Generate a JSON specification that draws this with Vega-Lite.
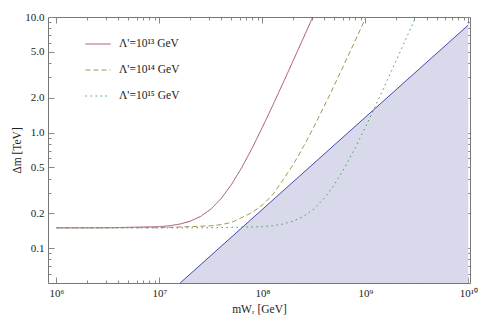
{
  "$schema": "https://vega.github.io/schema/vega-lite/v6.json",
  "width": 422,
  "height": 266,
  "autosize": "none",
  "padding": {"left": 48, "top": 17, "right": 15, "bottom": 45},
  "config": {
    "font": "Liberation Serif",
    "view": {"stroke": "#777777", "strokeWidth": 1},
    "axis": {"labelFont": "Liberation Serif", "titleFont": "Liberation Serif", "labelColor": "#222", "titleColor": "#222", "grid": false, "domain": false, "tickColor": "#888888", "labelFontSize": 11, "titleFontSize": 11.5, "titleFontWeight": "normal", "labelOverlap": false, "labelBound": false, "labelFlush": false}
  },
  "datasets": {
    "bound": [
      {"m": 15890000, "dm": 0.05},
      {"m": 10000000000, "dm": 8.52}
    ],
    "curves": [
      {"lam": "13", "m": 1000000, "dm": 0.15},
      {"lam": "13", "m": 3162000, "dm": 0.1502},
      {"lam": "13", "m": 10000000, "dm": 0.1536},
      {"lam": "13", "m": 12590000, "dm": 0.1565},
      {"lam": "13", "m": 15850000, "dm": 0.1618},
      {"lam": "13", "m": 19950000, "dm": 0.1714},
      {"lam": "13", "m": 25120000, "dm": 0.1884},
      {"lam": "13", "m": 31620000, "dm": 0.2181},
      {"lam": "13", "m": 39810000, "dm": 0.2693},
      {"lam": "13", "m": 50120000, "dm": 0.3559},
      {"lam": "13", "m": 63100000, "dm": 0.4992},
      {"lam": "13", "m": 79430000, "dm": 0.733},
      {"lam": "13", "m": 100000000, "dm": 1.111},
      {"lam": "13", "m": 125900000, "dm": 1.715},
      {"lam": "13", "m": 158500000, "dm": 2.678},
      {"lam": "13", "m": 199500000, "dm": 4.209},
      {"lam": "13", "m": 251200000, "dm": 6.638},
      {"lam": "13", "m": 316200000, "dm": 10.49},
      {"lam": "13", "m": 354800000, "dm": 13.2},
      {"lam": "14", "m": 1000000, "dm": 0.15},
      {"lam": "14", "m": 10000000, "dm": 0.1505},
      {"lam": "14", "m": 31620000, "dm": 0.156},
      {"lam": "14", "m": 39810000, "dm": 0.16},
      {"lam": "14", "m": 50120000, "dm": 0.167},
      {"lam": "14", "m": 63100000, "dm": 0.184},
      {"lam": "14", "m": 79430000, "dm": 0.204},
      {"lam": "14", "m": 100000000, "dm": 0.236},
      {"lam": "14", "m": 125900000, "dm": 0.29},
      {"lam": "14", "m": 158500000, "dm": 0.39},
      {"lam": "14", "m": 199500000, "dm": 0.53},
      {"lam": "14", "m": 251200000, "dm": 0.76},
      {"lam": "14", "m": 316200000, "dm": 1.12},
      {"lam": "14", "m": 398100000, "dm": 1.69},
      {"lam": "14", "m": 501200000, "dm": 2.58},
      {"lam": "14", "m": 631000000, "dm": 4.0},
      {"lam": "14", "m": 794300000, "dm": 6.2},
      {"lam": "14", "m": 1000000000, "dm": 9.7},
      {"lam": "14", "m": 1122000000, "dm": 12.2},
      {"lam": "15", "m": 1000000, "dm": 0.15},
      {"lam": "15", "m": 10000000, "dm": 0.15},
      {"lam": "15", "m": 31620000, "dm": 0.1502},
      {"lam": "15", "m": 100000000, "dm": 0.1536},
      {"lam": "15", "m": 125900000, "dm": 0.1565},
      {"lam": "15", "m": 158500000, "dm": 0.1618},
      {"lam": "15", "m": 199500000, "dm": 0.1714},
      {"lam": "15", "m": 251200000, "dm": 0.1884},
      {"lam": "15", "m": 316200000, "dm": 0.2181},
      {"lam": "15", "m": 398100000, "dm": 0.2693},
      {"lam": "15", "m": 501200000, "dm": 0.3559},
      {"lam": "15", "m": 631000000, "dm": 0.4992},
      {"lam": "15", "m": 794300000, "dm": 0.733},
      {"lam": "15", "m": 1000000000, "dm": 1.111},
      {"lam": "15", "m": 1259000000, "dm": 1.715},
      {"lam": "15", "m": 1585000000, "dm": 2.678},
      {"lam": "15", "m": 1995000000, "dm": 4.209},
      {"lam": "15", "m": 2512000000, "dm": 6.638},
      {"lam": "15", "m": 3162000000, "dm": 10.49},
      {"lam": "15", "m": 3548000000, "dm": 13.2}
    ]
  },
  "layer": [
    {
      "data": {"name": "bound"},
      "encoding": {
        "x": {"field": "m", "type": "quantitative", "scale": {"type": "log", "domain": [827000, 10390000000], "nice": false},
          "axis": {"orient": "bottom", "title": "mWᵣ [GeV]", "titlePadding": 2,
            "values": [1000000, 2000000, 3000000, 4000000, 5000000, 6000000, 7000000, 8000000, 9000000, 10000000, 20000000, 30000000, 40000000, 50000000, 60000000, 70000000, 80000000, 90000000, 100000000, 200000000, 300000000, 400000000, 500000000, 600000000, 700000000, 800000000, 900000000, 1000000000, 2000000000, 3000000000, 4000000000, 5000000000, 6000000000, 7000000000, 8000000000, 9000000000, 10000000000],
            "labelExpr": "datum.value == 1e6 ? '10⁶' : datum.value == 1e7 ? '10⁷' : datum.value == 1e8 ? '10⁸' : datum.value == 1e9 ? '10⁹' : datum.value == 1e10 ? '10¹⁰' : ''",
            "tickSize": {"condition": {"test": "indexof([1e6,1e7,1e8,1e9,1e10], datum.value) >= 0", "value": -6}, "value": -3},
            "labelPadding": 10}},
        "y": {"field": "dm", "type": "quantitative", "scale": {"type": "log", "domain": [0.05, 10], "nice": false},
          "axis": {"orient": "left", "title": "Δm [TeV]", "titlePadding": 2,
            "values": [0.06, 0.07, 0.08, 0.09, 0.1, 0.2, 0.3, 0.4, 0.5, 0.6, 0.7, 0.8, 0.9, 1, 2, 3, 4, 5, 6, 7, 8, 9, 10],
            "labelExpr": "indexof([0.1,0.2,0.5,1,2,5,10], datum.value) >= 0 ? format(datum.value, '.1f') : ''",
            "tickSize": {"condition": {"test": "indexof([0.1,0.2,0.5,1,2,5,10], datum.value) >= 0", "value": -6}, "value": -3},
            "labelPadding": 10}}
      },
      "layer": [
        {"mark": {"type": "area", "color": "#d9d9ec", "clip": true, "opacity": 1}, "encoding": {"y2": {"datum": 0.05}}},
        {"mark": {"type": "line", "color": "#4848aa", "strokeWidth": 1, "clip": true}, "encoding": {}}
      ]
    },
    {
      "data": {"name": "curves"},
      "mark": {"type": "line", "strokeWidth": 1, "clip": true},
      "encoding": {
        "x": {"field": "m", "type": "quantitative", "scale": {"type": "log", "domain": [827000, 10390000000], "nice": false},
          "axis": {"orient": "top", "title": null, "labels": false,
            "values": [1000000, 2000000, 3000000, 4000000, 5000000, 6000000, 7000000, 8000000, 9000000, 10000000, 20000000, 30000000, 40000000, 50000000, 60000000, 70000000, 80000000, 90000000, 100000000, 200000000, 300000000, 400000000, 500000000, 600000000, 700000000, 800000000, 900000000, 1000000000, 2000000000, 3000000000, 4000000000, 5000000000, 6000000000, 7000000000, 8000000000, 9000000000, 10000000000],
            "tickSize": {"condition": {"test": "indexof([1e6,1e7,1e8,1e9,1e10], datum.value) >= 0", "value": -6}, "value": -3}}},
        "y": {"field": "dm", "type": "quantitative", "scale": {"type": "log", "domain": [0.05, 10], "nice": false},
          "axis": {"orient": "right", "title": null, "labels": false,
            "values": [0.06, 0.07, 0.08, 0.09, 0.1, 0.2, 0.3, 0.4, 0.5, 0.6, 0.7, 0.8, 0.9, 1, 2, 3, 4, 5, 6, 7, 8, 9, 10],
            "tickSize": {"condition": {"test": "indexof([0.1,0.2,0.5,1,2,5,10], datum.value) >= 0", "value": -6}, "value": -3}}},
        "color": {"field": "lam", "type": "nominal",
          "scale": {"domain": ["13", "14", "15"], "range": ["#a24a7c", "#a8924f", "#44a04e"]},
          "legend": {"orient": "none", "legendX": 37, "legendY": 14, "title": null, "symbolType": "stroke", "symbolSize": 625, "symbolStrokeWidth": 1, "labelFontSize": 11.5, "labelFont": "Liberation Serif", "labelColor": "#222", "labelOffset": 8, "rowPadding": 7, "padding": 0,
            "labelExpr": "datum.value == '13' ? \"Λ'=10¹³ GeV\" : datum.value == '14' ? \"Λ'=10¹⁴ GeV\" : \"Λ'=10¹⁵ GeV\""}},
        "strokeDash": {"field": "lam", "type": "nominal",
          "scale": {"domain": ["13", "14", "15"], "range": [[1, 0], [5, 3], [1.5, 3.5]]},
          "legend": {"orient": "none", "legendX": 37, "legendY": 14, "title": null, "symbolType": "stroke", "symbolSize": 625, "symbolStrokeWidth": 1, "labelFontSize": 11.5, "labelFont": "Liberation Serif", "labelColor": "#222", "labelOffset": 8, "rowPadding": 7, "padding": 0,
            "labelExpr": "datum.value == '13' ? \"Λ'=10¹³ GeV\" : datum.value == '14' ? \"Λ'=10¹⁴ GeV\" : \"Λ'=10¹⁵ GeV\""}}
      }
    }
  ],
  "resolve": {"axis": {"x": "independent", "y": "independent"}}
}
